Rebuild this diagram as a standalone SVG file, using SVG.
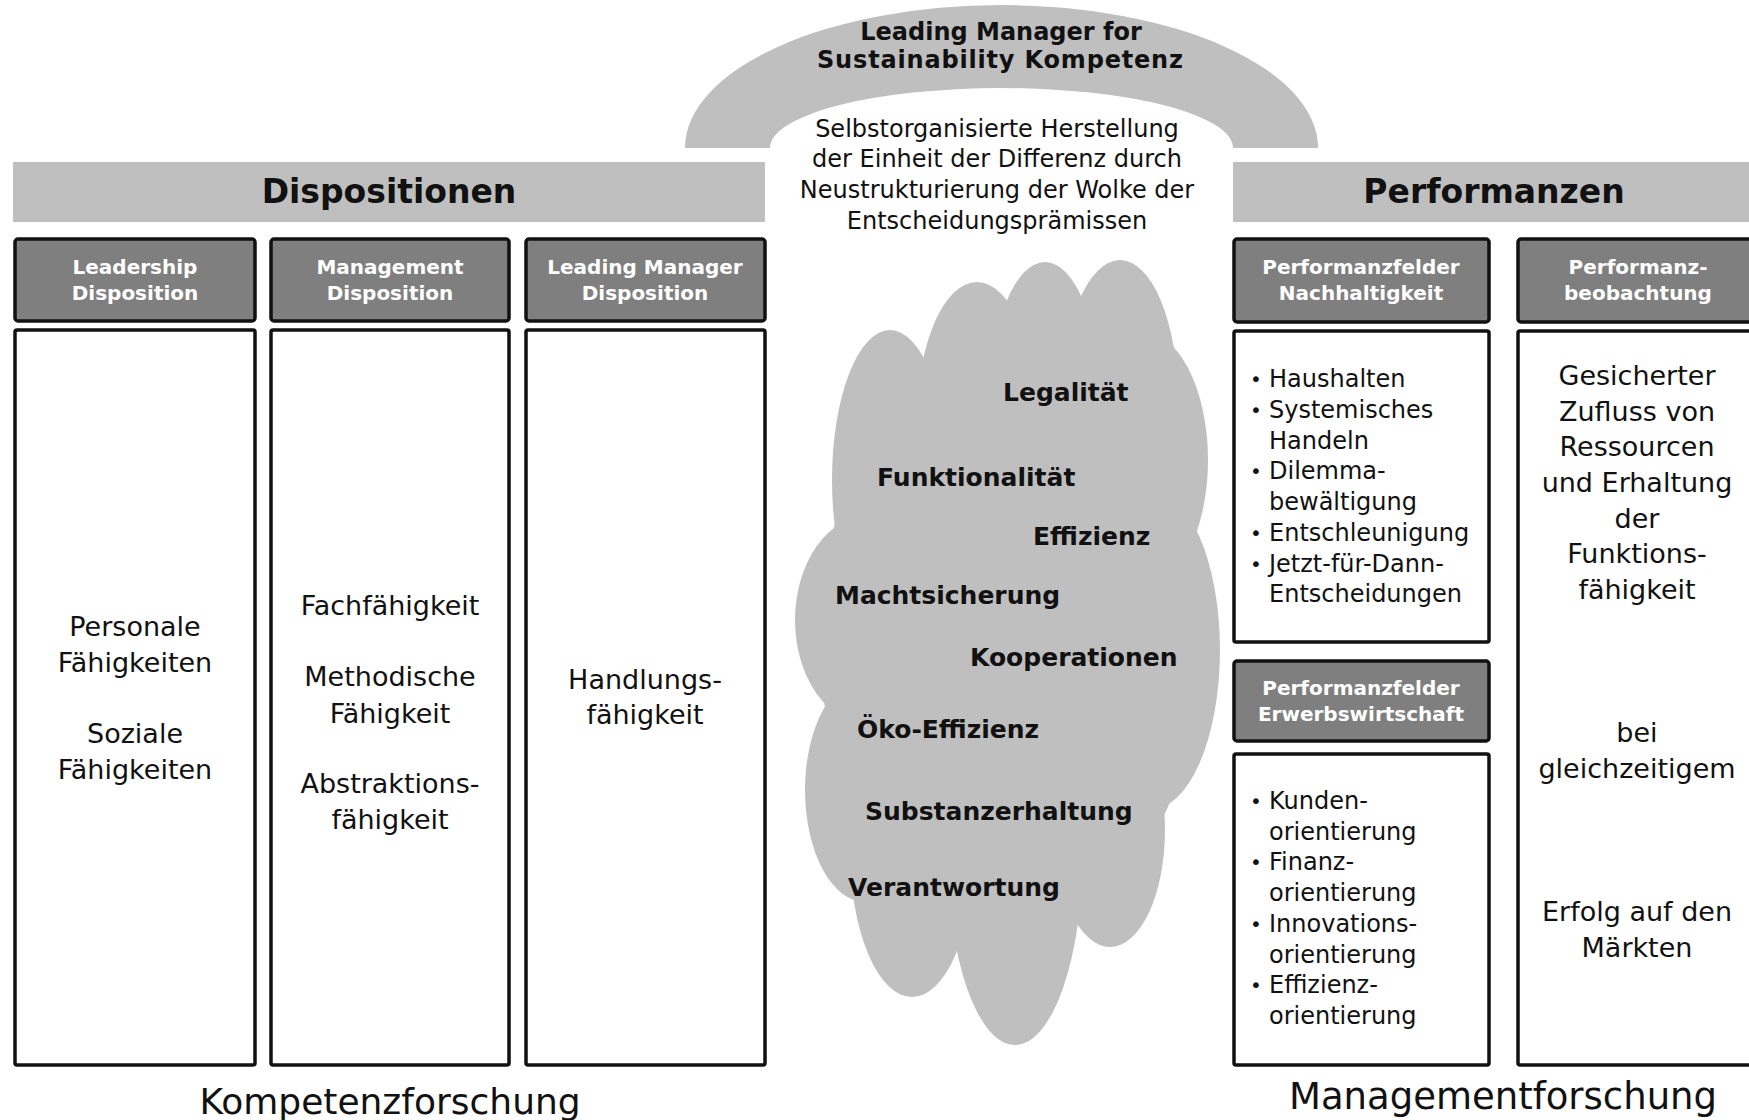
<svg xmlns="http://www.w3.org/2000/svg" width="1749" height="1120" viewBox="0 0 1749 1120">
<style>
.bg{fill:#ffffff}
.lg{fill:#bfbfbf}
.hdr{fill:#7f7f7f;stroke:#111;stroke-width:3.5}
.box{fill:#ffffff;stroke:#111;stroke-width:3.5}
text{font-family:"DejaVu Sans","Liberation Sans",sans-serif;fill:#111}
.title{font-size:33px;font-weight:bold;text-anchor:middle}
.arch{font-size:24px;font-weight:bold;text-anchor:middle}
.sub{font-size:24px;text-anchor:middle}
.ht{font-size:20px;font-weight:bold;fill:#ffffff;text-anchor:middle}
.body{font-size:27px;text-anchor:middle}
.li{font-size:24px}
.bu{font-size:20px;text-anchor:middle}
.cl{font-size:25px;font-weight:bold}
.foot{font-size:36px;text-anchor:middle}
</style>
<rect class="bg" x="0" y="0" width="1749" height="1120"/>

<g id="arch">
<path class="lg" d="M685 148 A316.5 143 0 0 1 1318 148 L1233 148 A231.5 60 0 0 0 770 148 Z"/>
<text class="arch" x="1001" y="40">Leading Manager for</text>
<text class="arch" x="1000" y="68" textLength="366">Sustainability Kompetenz</text>
</g>

<g id="center-text">
<text class="sub" x="997" y="137">Selbstorganisierte Herstellung</text>
<text class="sub" x="997" y="167">der Einheit der Differenz durch</text>
<text class="sub" x="997" y="198">Neustrukturierung der Wolke der</text>
<text class="sub" x="997" y="229">Entscheidungsprämissen</text>
</g>

<g id="dispositionen">
<rect class="lg" x="13" y="162" width="752" height="60"/>
<text class="title" x="389" y="203">Dispositionen</text>
</g>

<g id="performanzen">
<rect class="lg" x="1233" y="162" width="530" height="60"/>
<text class="title" x="1494" y="203">Performanzen</text>
</g>

<g id="leadership">
<rect class="hdr" x="15" y="239" width="240" height="82" rx="3"/>
<text class="ht" x="135" y="274">Leadership</text>
<text class="ht" x="135" y="300">Disposition</text>
<rect class="box" x="15" y="330" width="240" height="735" rx="2"/>
<text class="body" x="135" y="636">Personale</text>
<text class="body" x="135" y="672">Fähigkeiten</text>
<text class="body" x="135" y="743">Soziale</text>
<text class="body" x="135" y="779">Fähigkeiten</text>
</g>

<g id="management">
<rect class="hdr" x="271" y="239" width="238" height="82" rx="3"/>
<text class="ht" x="390" y="274">Management</text>
<text class="ht" x="390" y="300">Disposition</text>
<rect class="box" x="271" y="330" width="238" height="735" rx="2"/>
<text class="body" x="390" y="615">Fachfähigkeit</text>
<text class="body" x="390" y="686">Methodische</text>
<text class="body" x="390" y="723">Fähigkeit</text>
<text class="body" x="390" y="793">Abstraktions-</text>
<text class="body" x="390" y="829">fähigkeit</text>
</g>

<g id="leading-manager">
<rect class="hdr" x="526" y="239" width="239" height="82" rx="3"/>
<text class="ht" x="645" y="274">Leading Manager</text>
<text class="ht" x="645" y="300">Disposition</text>
<rect class="box" x="526" y="330" width="239" height="735" rx="2"/>
<text class="body" x="645" y="689">Handlungs-</text>
<text class="body" x="645" y="724">fähigkeit</text>
</g>

<g id="cloud">
<g class="lg">
<ellipse cx="1010" cy="640" rx="190" ry="300"/>
<ellipse cx="890" cy="480" rx="58" ry="150"/>
<ellipse cx="977" cy="420" rx="60" ry="138"/>
<ellipse cx="1045" cy="400" rx="55" ry="138"/>
<ellipse cx="1120" cy="400" rx="58" ry="140"/>
<ellipse cx="1140" cy="460" rx="68" ry="130"/>
<ellipse cx="1150" cy="650" rx="70" ry="160"/>
<ellipse cx="1110" cy="830" rx="55" ry="117"/>
<ellipse cx="1015" cy="850" rx="68" ry="195"/>
<ellipse cx="912" cy="850" rx="62" ry="147"/>
<ellipse cx="865" cy="790" rx="60" ry="112"/>
<ellipse cx="870" cy="620" rx="75" ry="105"/>
</g>
<text class="cl" x="1003" y="401">Legalität</text>
<text class="cl" x="877" y="486">Funktionalität</text>
<text class="cl" x="1033" y="545">Effizienz</text>
<text class="cl" x="835" y="604">Machtsicherung</text>
<text class="cl" x="970" y="666">Kooperationen</text>
<text class="cl" x="857" y="738">Öko-Effizienz</text>
<text class="cl" x="865" y="820">Substanzerhaltung</text>
<text class="cl" x="848" y="896">Verantwortung</text>
</g>

<g id="nachhaltigkeit">
<rect class="hdr" x="1234" y="239" width="255" height="83" rx="3"/>
<text class="ht" x="1361" y="274">Performanzfelder</text>
<text class="ht" x="1361" y="300">Nachhaltigkeit</text>
<rect class="box" x="1234" y="331" width="255" height="311" rx="2"/>
<text class="bu" x="1256" y="386">•</text>
<text class="li" x="1269" y="387">Haushalten</text>
<text class="bu" x="1256" y="417">•</text>
<text class="li" x="1269" y="418">Systemisches</text>
<text class="li" x="1269" y="449">Handeln</text>
<text class="bu" x="1256" y="478">•</text>
<text class="li" x="1269" y="479">Dilemma-</text>
<text class="li" x="1269" y="510">bewältigung</text>
<text class="bu" x="1256" y="540">•</text>
<text class="li" x="1269" y="541">Entschleunigung</text>
<text class="bu" x="1256" y="571">•</text>
<text class="li" x="1269" y="572">Jetzt-für-Dann-</text>
<text class="li" x="1269" y="602">Entscheidungen</text>
</g>

<g id="erwerbswirtschaft">
<rect class="hdr" x="1234" y="661" width="255" height="80" rx="3"/>
<text class="ht" x="1361" y="695">Performanzfelder</text>
<text class="ht" x="1361" y="721">Erwerbswirtschaft</text>
<rect class="box" x="1234" y="754" width="255" height="311" rx="2"/>
<text class="bu" x="1256" y="808">•</text>
<text class="li" x="1269" y="809">Kunden-</text>
<text class="li" x="1269" y="840">orientierung</text>
<text class="bu" x="1256" y="869">•</text>
<text class="li" x="1269" y="870">Finanz-</text>
<text class="li" x="1269" y="901">orientierung</text>
<text class="bu" x="1256" y="931">•</text>
<text class="li" x="1269" y="932">Innovations-</text>
<text class="li" x="1269" y="963">orientierung</text>
<text class="bu" x="1256" y="992">•</text>
<text class="li" x="1269" y="993">Effizienz-</text>
<text class="li" x="1269" y="1024">orientierung</text>
</g>

<g id="beobachtung">
<rect class="hdr" x="1518" y="239" width="240" height="83" rx="3"/>
<text class="ht" x="1638" y="274">Performanz-</text>
<text class="ht" x="1638" y="300">beobachtung</text>
<rect class="box" x="1518" y="331" width="240" height="734" rx="2"/>
<text class="body" x="1637" y="385">Gesicherter</text>
<text class="body" x="1637" y="421">Zufluss von</text>
<text class="body" x="1637" y="456">Ressourcen</text>
<text class="body" x="1637" y="492">und Erhaltung</text>
<text class="body" x="1637" y="528">der</text>
<text class="body" x="1637" y="563">Funktions-</text>
<text class="body" x="1637" y="599">fähigkeit</text>
<text class="body" x="1637" y="742">bei</text>
<text class="body" x="1637" y="778">gleichzeitigem</text>
<text class="body" x="1637" y="921">Erfolg auf den</text>
<text class="body" x="1637" y="957">Märkten</text>
</g>

<g id="footers">
<text class="foot" x="390" y="1114">Kompetenzforschung</text>
<text class="foot" x="1503" y="1109" style="font-size:37px">Managementforschung</text>
</g>

<g id="connectors"></g>
</svg>
